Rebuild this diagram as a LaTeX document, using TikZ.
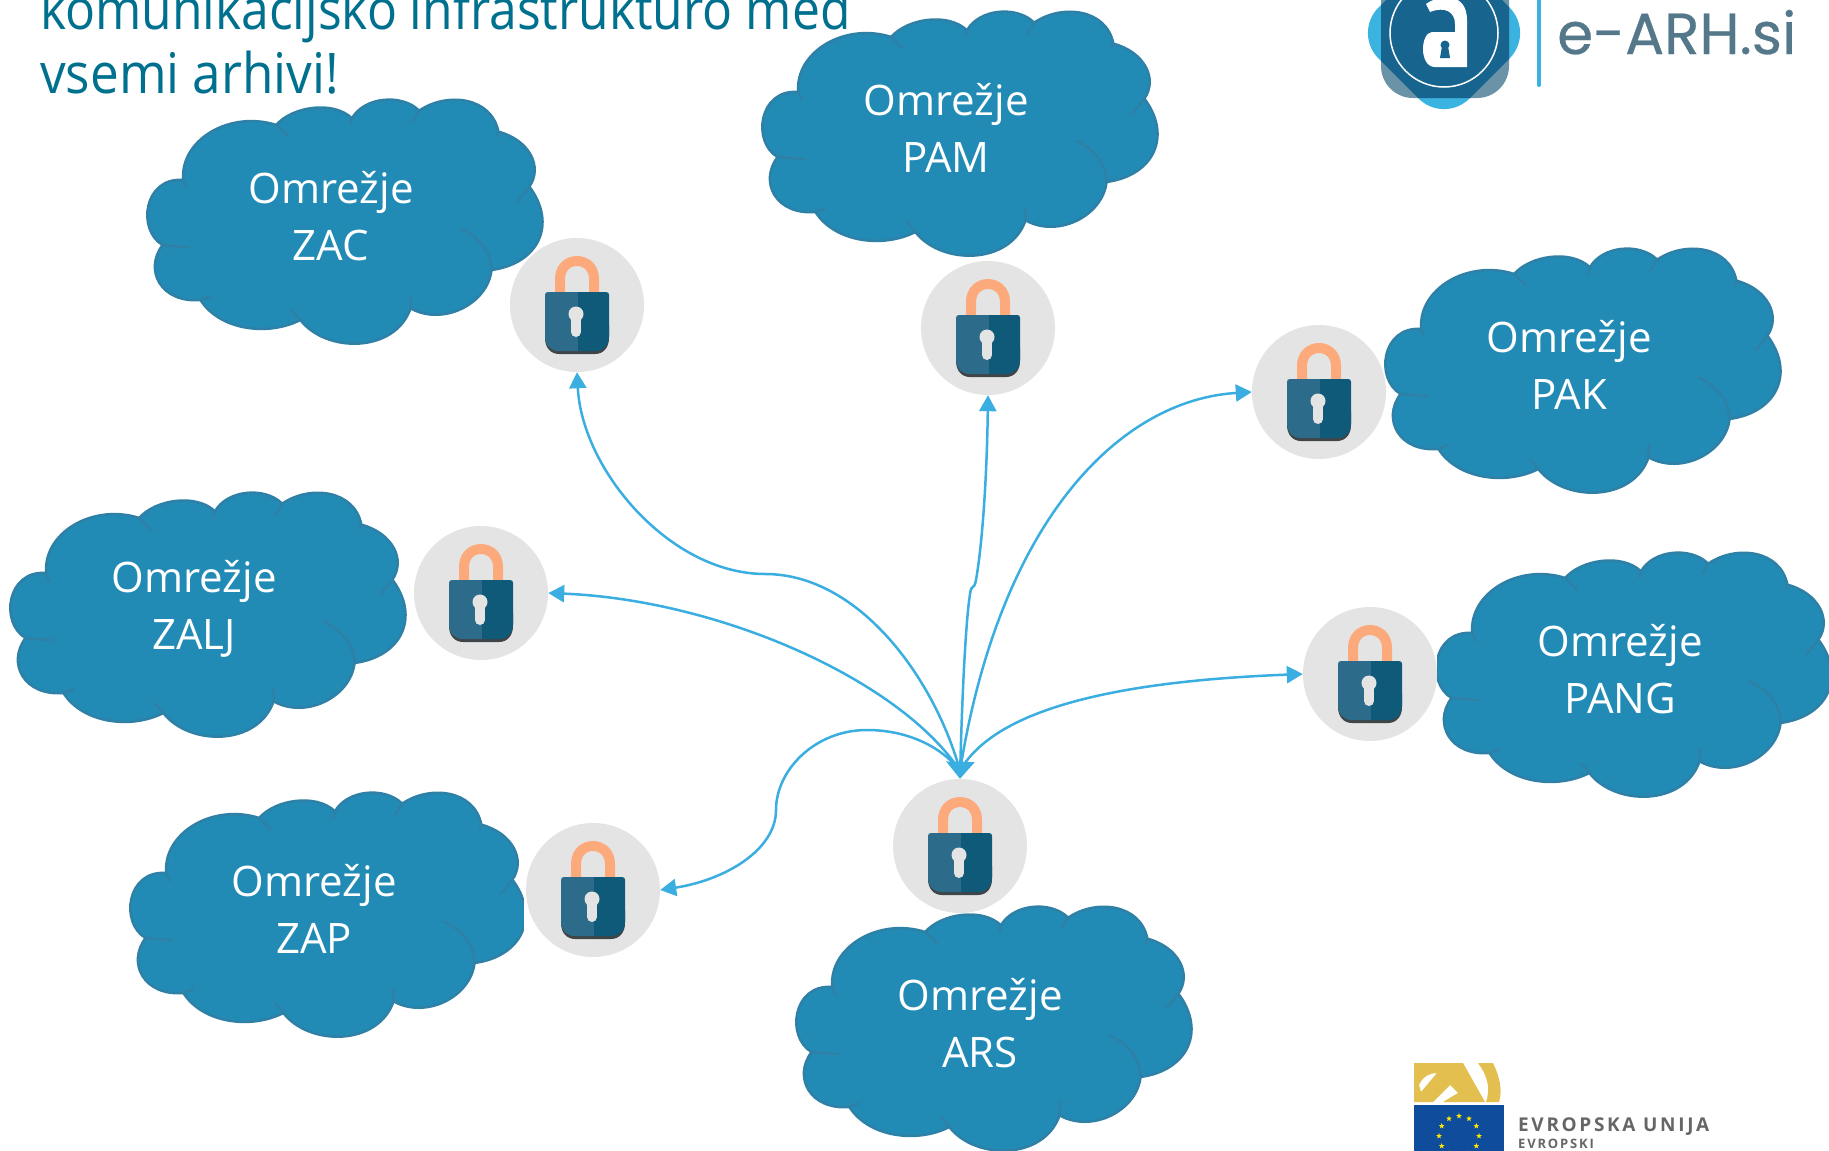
\documentclass[tikz,border=0pt]{standalone}
\usepackage{fontspec}
\usepackage{graphicx}
\usetikzlibrary{shapes.geometric,arrows.meta,positioning}
\setmainfont{Open Sans}
\newfontfamily\logofont[FakeBold=0.4]{Poppins}
\newfontfamily\eufont[LetterSpace=14]{Open Sans}
\newfontfamily\eusmallfont[LetterSpace=14]{Open Sans}
\definecolor{cloudfill}{HTML}{228BB5}
\definecolor{cloudedge}{HTML}{2E80A6}
\definecolor{titleblue}{HTML}{00708F}
\definecolor{linkblue}{HTML}{3AAEE0}
\definecolor{lockdisc}{HTML}{E4E4E4}
\definecolor{lockleft}{HTML}{2C6C8A}
\definecolor{lockright}{HTML}{0F5A78}
\definecolor{lockbase}{HTML}{3F4548}
\definecolor{lockbow}{HTML}{FCA97C}
\definecolor{logolight}{HTML}{3BB3E0}
\definecolor{logogray}{HTML}{6A93A8}
\definecolor{logodark}{HTML}{17648F}
\definecolor{logotext}{HTML}{54788A}
\definecolor{eugold}{HTML}{E3BF50}
\definecolor{euflag}{HTML}{0F4C9C}
\definecolor{eutext}{HTML}{666666}
\tikzset{
  title/.style={anchor=base west, inner sep=0pt, text=titleblue, font=\fontsize{56}{60}\selectfont},
  link/.style={draw=linkblue, line width=2.5pt, -{Triangle[length=16pt,width=17pt]}},
  hublink/.style={link, {Triangle[length=17pt,width=28pt]}-{Triangle[length=16pt,width=17pt]}},
  keylock/.style={circle, fill=lockdisc, inner sep=0pt, minimum size=134pt,
    path picture={
      \begin{scope}[shift={(path picture bounding box.center)}]
        \draw[lockbow, line width=10pt] (-17,-12) -- (-17,-26) .. controls (-17,-50) and (17,-50) .. (17,-26) -- (17,-12);
        \fill[lockbase] (-32,20) -- (-32,33) .. controls (-32,43) and (-26,49) .. (-18,49) -- (18,49) .. controls (26,49) and (32,43) .. (32,33) -- (32,20) -- cycle;
        \fill[lockleft] (1,-13) -- (-29,-13) .. controls (-31,-13) and (-32,-12) .. (-32,-10) -- (-32,31) .. controls (-32,41) and (-26,46) .. (-18,46) -- (1,46) -- cycle;
        \fill[lockright] (1,-13) -- (29,-13) .. controls (31,-13) and (32,-12) .. (32,-10) -- (32,31) .. controls (32,41) and (26,46) .. (18,46) -- (1,46) -- cycle;
        \fill[lockdisc] (-1,9) circle (7.5);
        \draw[lockdisc, line width=10pt, line cap=round] (-1,10) -- (-1,27);
      \end{scope}
    }},
  pics/netcloud/.style={code={
    \begin{scope}[x=0.3444pt, y=-0.3333pt, shift={(-584,-378)}]
      \draw[fill=cloudfill, draw=cloudedge, line width=2.5pt]
        (155,270) .. controls (145,150) and (290,60) .. (425,105)
        .. controls (470,50) and (590,30) .. (645,85)
        .. controls (680,20) and (790,10) .. (840,62)
        .. controls (920,5) and (1050,20) .. (1070,125)
        .. controls (1160,150) and (1200,230) .. (1160,290)
        .. controls (1240,400) and (1190,520) .. (1050,540)
        .. controls (1040,640) and (910,710) .. (815,655)
        .. controls (770,790) and (570,790) .. (495,690)
        .. controls (400,740) and (260,720) .. (205,630)
        .. controls (90,640) and (40,540) .. (95,465)
        .. controls (20,420) and (40,260) .. (155,270) -- cycle;
      \draw[cloudedge, line width=2.5pt] (425,105) -- (460,140) (645,85) -- (640,105)
        (840,62) -- (820,95) (1070,125) -- (1065,140) (1160,290) -- (1125,335)
        (960,415) .. controls (1030,450) and (1050,500) .. (1050,540)
        (815,655) -- (815,615) (495,690) -- (470,660) (205,630) -- (235,618)
        (95,465) -- (175,472) (155,270) -- (165,295);
    \end{scope}
    \node (-label) [align=center, text=white, inner sep=0pt, font=\fontsize{42}{57}\selectfont] at (0,0) {#1};
  }}
}
\begin{document}
\begin{tikzpicture}[x=1pt, y=-1pt]
  \useasboundingbox (0,0) rectangle (1829,1151);
  \fill[white] (0,0) rectangle (1829,1151);

  % title, cut by the page
  \node (titleone) [title] at (40,29) {\scalebox{.889}[1]{komunikacijsko infrastrukturo med}};
  \node (titletwo) [title] at (40,93) {\scalebox{.915}[1]{vsemi arhivi!}};

  % logo
  \begin{scope}
    \fill[logolight, rounded corners=36pt] (1444,-58) -- (1535,33) -- (1444,124) -- (1353,33) -- cycle;
    \fill[logogray, rounded corners=32pt] (1381,-30) rectangle (1509,98);
    \begin{scope}
      \clip (1444,-58) -- (1535,33) -- (1444,124) -- (1353,33) -- cycle;
      \fill[logodark, rounded corners=32pt] (1381,-30) rectangle (1509,98);
    \end{scope}
    \draw[white, line width=1.5pt] (1444,33) circle (54);
    \fill[white] (1426,4) -- (1430,12) .. controls (1445,6) and (1455,12) .. (1455,24) -- (1455,32) -- (1432,32)
      .. controls (1420,33) and (1419,67) .. (1435,67) -- (1467,67) -- (1467,20) .. controls (1467,-8) and (1440,-6) .. (1426,4) -- cycle;
    \fill[logodark] (1445,45) circle (4.5) (1442,46) -- (1448,46) -- (1450,58) -- (1440,58) -- cycle;
    \draw[logolight, line width=4pt, line cap=round] (1539,0) -- (1539,85);
  \end{scope}
  \node (logoname) [anchor=base west, inner sep=0pt, text=logotext, font=\logofont\fontsize{58}{60}\selectfont] at (1557,54) {e-ARH.si};

  % networks
  \pic (zac) at (331,216) {netcloud={Omrežje\\ZAC}};
  \pic (pam) at (946,128) {netcloud={Omrežje\\PAM}};
  \pic (pak) at (1569,365) {netcloud={Omrežje\\PAK}};
  \pic (zalj) at (194,609) {netcloud={Omrežje\\ZALJ}};
  \pic (pang) at (1620,669) {netcloud={Omrežje\\PANG}};
  \pic (zap) at (314,909) {netcloud={Omrežje\\ZAP}};
  \pic (ars) at (980,1023) {netcloud={Omrežje\\ARS}};

  % white corners of the lock pictures
  \fill[white] (893,779) rectangle (1027,906) (893,779) rectangle (1010,913);
  \fill[white] (524,823) rectangle (660,957);
  \fill[white] (1303,607) rectangle (1437,741);

  % locks
  \node (lockzac) [keylock] at (577,305) {};
  \node (lockpam) [keylock] at (988,328) {};
  \node (lockpak) [keylock] at (1319,392) {};
  \node (lockzalj) [keylock] at (481,593) {};
  \node (lockpang) [keylock] at (1370,674) {};
  \node (lockzap) [keylock] at (593,890) {};
  \node (lockars) [keylock] at (960,846) {};
  \coordinate (arshub) at ([yshift=8pt]lockars.north);

  % links from ARS
  \draw[link] (arshub) .. controls (935,680) and (860,574) .. (765,574)
    .. controls (670,574) and (582,470) .. (lockzac.south);
  \draw[hublink] (lockars.north) .. controls (962,700) and (966,610) .. (971,589)
    .. controls (974,587) and (975,585) .. (976,580) .. controls (983,540) and (987,470) .. (lockpam.south);
  \draw[link] (arshub) .. controls (1000,520) and (1120,400) .. (lockpak.west);
  \draw[link] (arshub) .. controls (900,680) and (720,600) .. (lockzalj.east);
  \draw[link] (arshub) .. controls (1000,700) and (1150,680) .. (lockpang.west);
  \draw[link] (arshub) .. controls (940,745) and (905,730) .. (867,730)
    .. controls (815,730) and (776,770) .. (776,810)
    .. controls (776,850) and (725,880) .. (lockzap.east);

  % EU mark
  \fill[eugold, even odd rule] (1414,1063) -- (1463,1063) -- (1485,1102) -- (1443,1102) -- (1458,1093) -- (1450,1085) -- (1433,1102) -- (1414,1102) -- cycle
    (1419,1085) .. controls (1423,1076) and (1430,1073) .. (1437,1073) -- (1421,1092) -- cycle;
  \fill[eugold] (1478,1063) -- (1493,1063) .. controls (1499,1075) and (1503,1090) .. (1499,1102) -- (1486,1102) .. controls (1491,1088) and (1487,1075) .. (1478,1063) -- cycle;
  \fill[euflag] (1414,1105) rectangle (1504,1151);
  \foreach \a in {0,30,...,330}
    \node (star\a) [star, star points=5, star point ratio=2.4, fill=yellow!90!orange, inner sep=0pt, minimum size=6pt] at ({1459+20*cos(\a)},{1136+20*sin(\a)}) {};
  \node (euname) [anchor=base west, inner sep=0pt, text=eutext, font=\eufont\bfseries\fontsize{19}{20}\selectfont] at (1518,1131) {EVROPSKA UNIJA};
  \node (eufund) [anchor=base west, inner sep=0pt, text=eutext, font=\eusmallfont\bfseries\fontsize{13}{14}\selectfont] at (1518,1148) {EVROPSKI};
\end{tikzpicture}
\end{document}
